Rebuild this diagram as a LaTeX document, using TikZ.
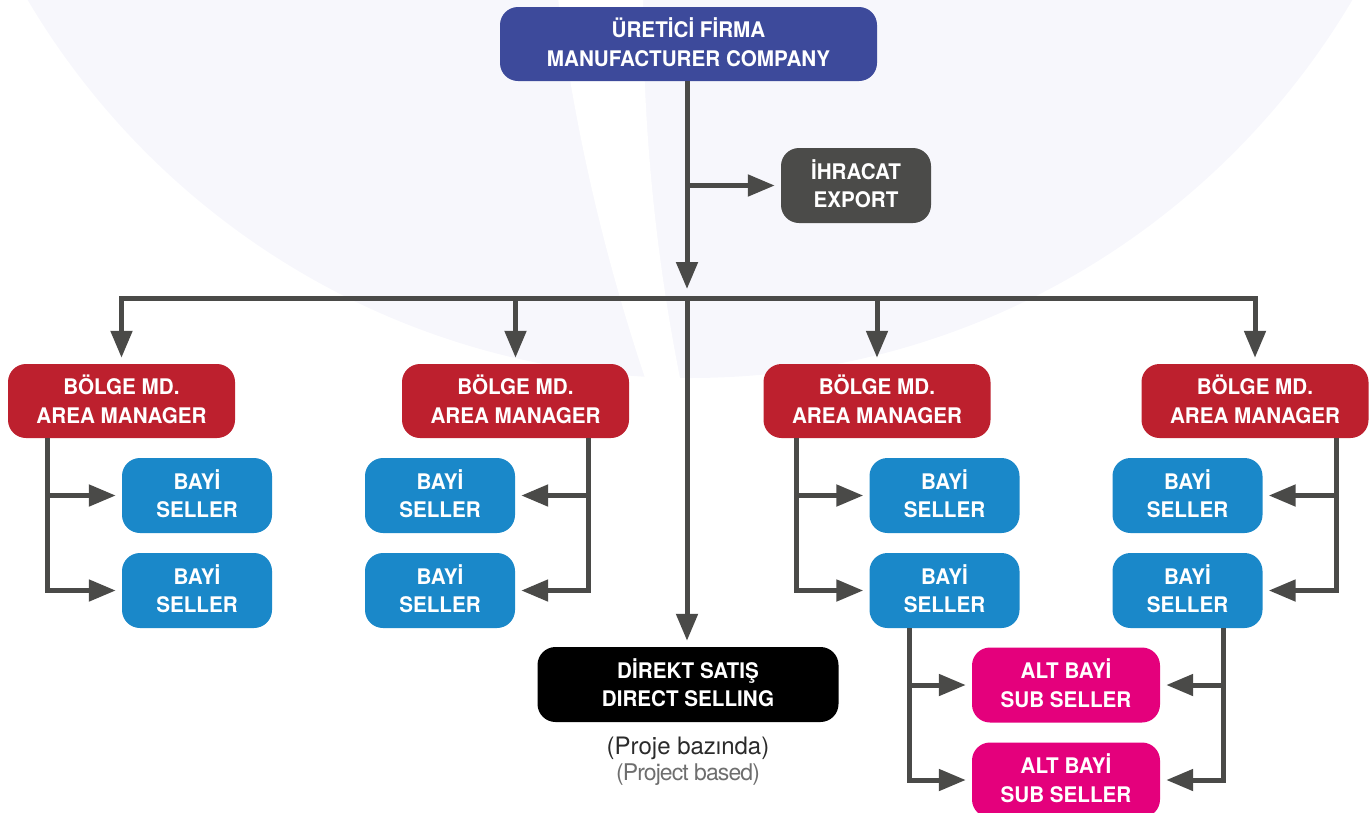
\documentclass[tikz,border=0pt]{standalone}
\usepackage{fontspec}
\setmainfont{TeX Gyre Heros}
\newfontfamily\cardfont[FakeStretch=0.96]{TeX Gyre Heros}
\usetikzlibrary{arrows.meta,calc}

\definecolor{bgtint}{HTML}{F7F7FC}
\definecolor{hdrblue}{HTML}{3D4A9B}
\definecolor{expgray}{HTML}{4B4B49}
\definecolor{areared}{HTML}{BD202E}
\definecolor{sellblue}{HTML}{1A88C9}
\definecolor{subpink}{HTML}{E4007C}
\definecolor{linegray}{HTML}{4A4A48}
\definecolor{notedark}{HTML}{2B2B2B}
\definecolor{notelight}{HTML}{6E6E6E}

% two centred lines whose block is measured from cap top to last baseline
\newcommand\twoline[2]{\raisebox{0pt}[15.5pt][0pt]{#1}\\\raisebox{0pt}[0pt][0pt]{#2}}

\tikzset{
  card/.style={rounded corners=18pt, align=center, text=white, inner sep=0pt,
    font=\cardfont\bfseries\fontsize{21.5}{28.5}\selectfont},
  hdr/.style={card, fill=hdrblue, minimum width=377pt, minimum height=74pt},
  exportbox/.style={card, fill=expgray, minimum width=150pt, minimum height=75pt},
  area/.style={card, fill=areared, minimum width=227pt, minimum height=74pt},
  seller/.style={card, fill=sellblue, minimum width=150pt, minimum height=75pt},
  subseller/.style={card, fill=subpink, minimum width=188pt, minimum height=75pt},
  direct/.style={card, fill=black, minimum width=301pt, minimum height=75pt},
  link/.style={draw=linegray, line width=5pt},
  tip/.tip={Triangle[length=27pt,width=21pt]},
  arr/.style={link, -tip, shorten >=6pt},
  note/.style={inner sep=0pt, anchor=base, font=\fontsize{24}{24}\selectfont},
}

\begin{document}
\begin{tikzpicture}[x=1pt,y=-1pt]
\useasboundingbox (0,0) rectangle (1372,812);

% pale disc behind the chart, split by a white curved band
\begin{scope}
  \clip (0,0) rectangle (1372,812);
  \fill[bgtint] (690,-391) circle[radius=769];
  \fill[white] (558,-2) .. controls (574,126) and (603,252) .. (645,378)
    -- (645,400) -- (682,400) -- (680,378)
    .. controls (655,252) and (643,126) .. (643,-2) -- cycle;
\end{scope}

% boxes
\node[hdr] (top) at (688.5,44) {\twoline{ÜRETİCİ FİRMA}{MANUFACTURER COMPANY}};
\node[exportbox] (ex) at (856,185.5) {\twoline{İHRACAT}{EXPORT}};

\node[area] (a1) at (121.5,401) {\twoline{BÖLGE MD.}{AREA MANAGER}};
\node[area] (a2) at (515.5,401) {\twoline{BÖLGE MD.}{AREA MANAGER}};
\node[area] (a3) at (877,401) {\twoline{BÖLGE MD.}{AREA MANAGER}};
\node[area] (a4) at (1255,401) {\twoline{BÖLGE MD.}{AREA MANAGER}};

\node[seller] (s11) at (197,495.5) {\twoline{BAYİ}{SELLER}};
\node[seller] (s12) at (197,590.5) {\twoline{BAYİ}{SELLER}};
\node[seller] (s21) at (440,495.5) {\twoline{BAYİ}{SELLER}};
\node[seller] (s22) at (440,590.5) {\twoline{BAYİ}{SELLER}};
\node[seller] (s31) at (944.5,495.5) {\twoline{BAYİ}{SELLER}};
\node[seller] (s32) at (944.5,590.5) {\twoline{BAYİ}{SELLER}};
\node[seller] (s41) at (1187.5,495.5) {\twoline{BAYİ}{SELLER}};
\node[seller] (s42) at (1187.5,590.5) {\twoline{BAYİ}{SELLER}};

\node[subseller] (u1) at (1066,685) {\twoline{ALT BAYİ}{SUB SELLER}};
\node[subseller] (u2) at (1066,780) {\twoline{ALT BAYİ}{SUB SELLER}};

\node[direct] (ds) at (688,684.5) {\twoline{DİREKT SATIŞ}{DIRECT SELLING}};
\node[note, text=notedark] (pj1) at (688,754) {(Proje bazında)};
\node[note, text=notelight, font=\fontsize{23}{23}\selectfont\addfontfeatures{LetterSpace=-4}] (pj2) at (688,780) {(Project based)};

% trunk and main bus
\coordinate (hub) at (687,298);
\draw[arr, shorten >=9pt] (top.south -| hub) -- (hub);
\draw[arr] (hub |- ex.west) -- (ex.west);
\draw[arr] (hub) -- (hub |- ds.north);
\draw[link, tip-tip, shorten <=6pt, shorten >=6pt]
  (a1.north) -- (a1.north |- hub) -- (a4.north |- hub) -- (a4.north);
\draw[arr] (a2.north |- hub) -- (a2.north);
\draw[arr] (a3.north |- hub) -- (a3.north);

% area managers to sellers
\coordinate (k1) at ([xshift=40pt]a1.south west);
\coordinate (k2) at ([xshift=-40.5pt]a2.south east);
\coordinate (k3) at ([xshift=33pt]a3.south west);
\coordinate (k4) at ([xshift=-32.5pt]a4.south east);
\draw[arr] (k1) |- (s12.west);
\draw[arr] (k1 |- s11.west) -- (s11.west);
\draw[arr] (k2) |- (s22.east);
\draw[arr] (k2 |- s21.east) -- (s21.east);
\draw[arr] (k3) |- (s32.west);
\draw[arr] (k3 |- s31.west) -- (s31.west);
\draw[arr] (k4) |- (s42.east);
\draw[arr] (k4 |- s41.east) -- (s41.east);

% sellers to sub sellers
\coordinate (m3) at ([xshift=40.5pt]s32.south west);
\coordinate (m4) at ([xshift=-39.5pt]s42.south east);
\draw[arr] (m3) |- (u2.west);
\draw[arr] (m3 |- u1.west) -- (u1.west);
\draw[arr] (m4) |- (u2.east);
\draw[arr] (m4 |- u1.east) -- (u1.east);
\end{tikzpicture}
\end{document}
